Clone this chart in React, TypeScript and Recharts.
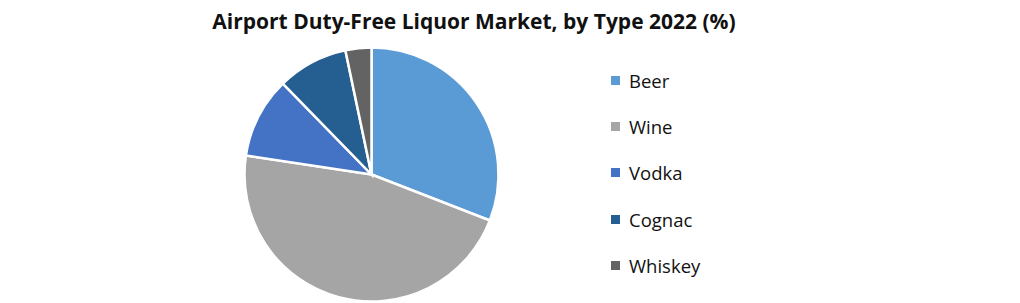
import React from "react";
import { PieChart, Pie, Cell } from "recharts";

const categories = ["Beer", "Wine", "Vodka", "Cognac", "Whiskey"];
const shares = [30.9, 46.5, 10.3, 9.0, 3.3];
const colors = ["#5B9BD5", "#A5A5A5", "#4472C4", "#255E91", "#636363"];
const title = "Airport Duty-Free Liquor Market, by Type 2022 (%)";

const data = categories.map((name, i) => ({ name, value: shares[i] }));

export default function App() {
  return (
    <div style={{ position: "absolute", left: 0, top: 0, width: 1020, height: 303, background: "#fff" }}>
      <PieChart width={1020} height={303} margin={{ top: 0, right: 0, bottom: 0, left: 0 }}>
        <text x={474} y={29} textAnchor="middle" fontFamily="'Open Sans', sans-serif" fontWeight="bold" fontSize={21} fill="#111">
          {title}
        </text>
        <Pie
          data={data}
          dataKey="value"
          nameKey="name"
          cx={371.5}
          cy={174.5}
          outerRadius={127}
          startAngle={90}
          endAngle={-270}
          stroke="#fff"
          strokeWidth={2.5}
          isAnimationActive={false}
          label={false}
        >
          {data.map((d, i) => (
            <Cell key={d.name} fill={colors[i]} />
          ))}
        </Pie>
      </PieChart>
      <div
        style={{
          position: "absolute",
          left: 611,
          top: 57,
          fontFamily: "'Open Sans', sans-serif",
          fontSize: 18.5,
          color: "#111",
        }}
      >
        {categories.map((c, i) => (
          <div key={c} style={{ display: "flex", alignItems: "center", height: 46.3 }}>
            <span style={{ display: "inline-block", width: 9, height: 9, background: colors[i], marginRight: 9 }} />
            <span>{c}</span>
          </div>
        ))}
      </div>
    </div>
  );
}
